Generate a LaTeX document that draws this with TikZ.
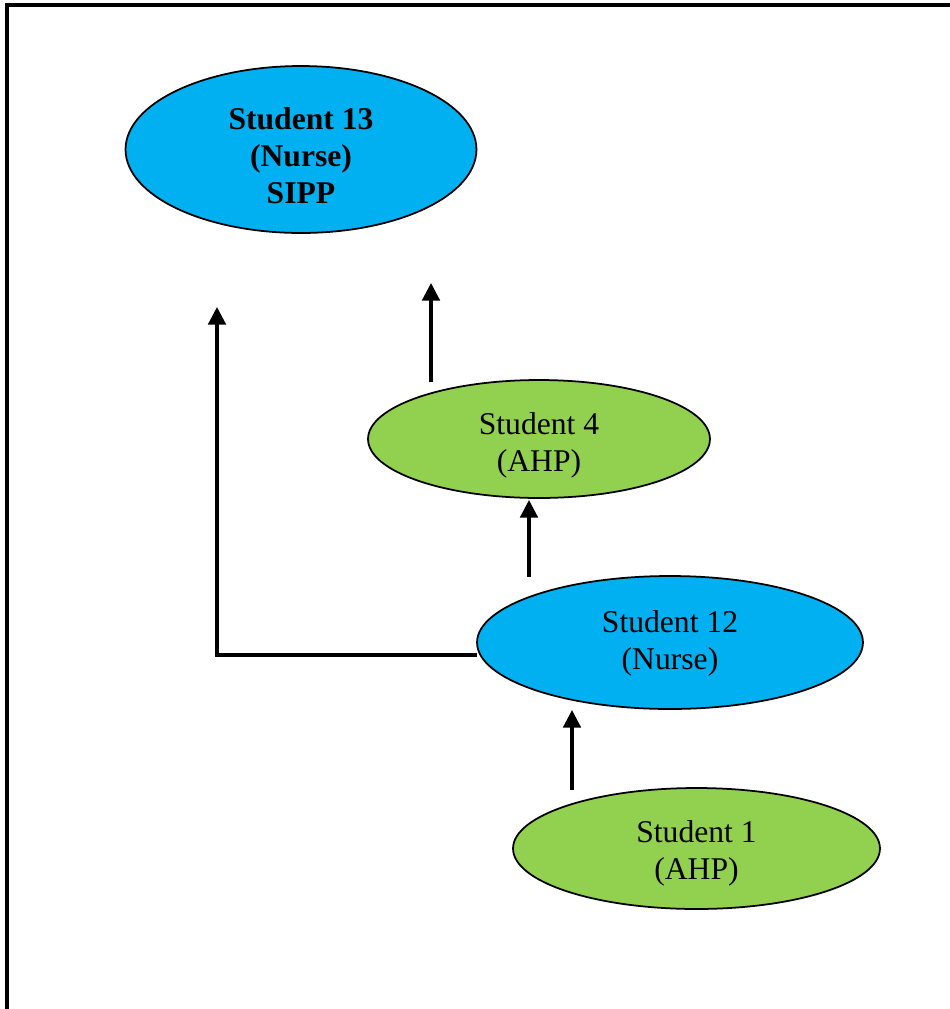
\documentclass[tikz,border=0pt]{standalone}
\usepackage{fontspec}
\setmainfont{Liberation Serif}
\usetikzlibrary{shapes.geometric,arrows.meta}
\definecolor{nurseblue}{HTML}{00B0F0}
\definecolor{ahpgreen}{HTML}{92D050}
\tikzset{
  oval/.style={ellipse, draw=black, line width=1pt, inner sep=0pt},
  nurse/.style={oval, fill=nurseblue},
  ahp/.style={oval, fill=ahpgreen},
  lbl/.style={align=center, inner sep=0pt, font=\fontsize{18}{21}\selectfont},
  conn/.style={line width=1.8pt, -{Triangle[length=10pt,width=10pt]}},
  frameline/.style={line width=2pt}
}
\begin{document}
\begin{tikzpicture}[x=0.02cm,y=-0.02cm]
\useasboundingbox (0,0) rectangle (950,1009);
% frame (cropped on right and bottom)
\coordinate (fb) at (7,1009);
\coordinate (ftl) at (7,5);
\coordinate (ftr) at (950,5);
\draw[frameline] (fb) -- (ftl) -- (ftr);
% nodes
\node[nurse, minimum width=7.02cm, minimum height=3.34cm] (s13) at (301,149.5) {};
\node[lbl, font=\fontsize{18}{21}\selectfont\bfseries] (s13t) at ([yshift=-3.4pt]s13.center)
  {Student 13\\(Nurse)\\SIPP};
\node[ahp, minimum width=6.84cm, minimum height=2.36cm] (s4) at (539,439) {};
\node[lbl] (s4t) at ([yshift=-3.8pt]s4.center) {Student 4\\(AHP)};
\node[nurse, minimum width=7.72cm, minimum height=2.66cm] (s12) at (670,642.5) {};
\node[lbl] (s12t) at ([yshift=-0.5pt]s12.center) {Student 12\\(Nurse)};
\node[ahp, minimum width=7.34cm, minimum height=2.42cm] (s1) at (696.5,848.5) {};
\node[lbl] (s1t) at ([yshift=-2.8pt]s1.center) {Student 1\\(AHP)};
% connector ends
\coordinate (a1s) at (572,790);
\coordinate (a1e) at (572,710);
\coordinate (a2s) at (529,577);
\coordinate (a2e) at (529,500);
\coordinate (a3s) at (431,382);
\coordinate (a3e) at (431,283);
\coordinate (a4s) at (477,655);
\coordinate (a4c) at (217,655);
\coordinate (a4e) at (217,307);
% connectors
\draw[conn] (a1s) -- (a1e);
\draw[conn] (a2s) -- (a2e);
\draw[conn] (a3s) -- (a3e);
\draw[conn] (a4s) -- (a4c) -- (a4e);
\end{tikzpicture}
\end{document}
